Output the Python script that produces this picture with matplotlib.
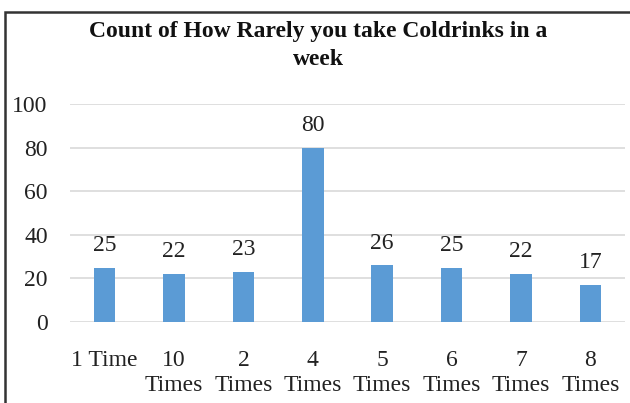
import matplotlib
matplotlib.use("Agg")
import matplotlib.pyplot as plt
from matplotlib.patches import Rectangle

categories = ["1 Time", "10\nTimes", "2\nTimes", "4\nTimes", "5\nTimes", "6\nTimes", "7\nTimes", "8\nTimes"]
counts = [25, 22, 23, 80, 26, 25, 22, 17]
yticks = [0, 20, 40, 60, 80, 100]
title_lines = ["Count of How Rarely you take Coldrinks in a", "week"]

plt.rcParams["font.family"] = ["Liberation Serif", "DejaVu Serif"]

W, H = 630, 403
fig = plt.figure(figsize=(W / 100, H / 100), dpi=100)
ax = fig.add_axes([70 / W, 1 - 322 / H, (625 - 70) / W, (322 - 104) / H])

x = range(len(categories))
ax.bar(x, counts, width=0.31, color="#5B9BD5", zorder=3)
for xi, v in zip(x, counts):
    ax.annotate(str(v), (xi, v), xytext=(0, 8.5), textcoords="offset points",
                ha="center", va="bottom", fontsize=17, color="#222222")

ax.set_xlim(-0.5, len(categories) - 0.5)
ax.set_ylim(0, 100)
ax.set_yticks(yticks)
ax.set_yticklabels([str(t) for t in yticks], fontsize=17, color="#222222")
ax.set_xticks(list(x))
ax.set_xticklabels(categories, fontsize=17, linespacing=1.24, va="top", color="#222222")
ax.tick_params(axis="both", length=0)
ax.tick_params(axis="y", pad=16)
ax.tick_params(axis="x", pad=20)
ax.grid(axis="y", color="#d9d9d9", linewidth=1.2, zorder=0)
for s in ax.spines.values():
    s.set_visible(False)

# two-line bold title, each line placed on its own baseline
for line, base in zip(title_lines, [37, 65]):
    fig.text(318 / W, 1 - base / H, line, ha="center", va="baseline",
             fontsize=17, fontweight="bold", color="#111111")

# outer frame of the chart area
fig.patches.append(Rectangle((5 / W, -0.1), 1.2, 1 - 12 / H + 0.1, transform=fig.transFigure,
                             fill=False, edgecolor="#333333", linewidth=1.8))

fig.savefig("out.png", dpi=100)
